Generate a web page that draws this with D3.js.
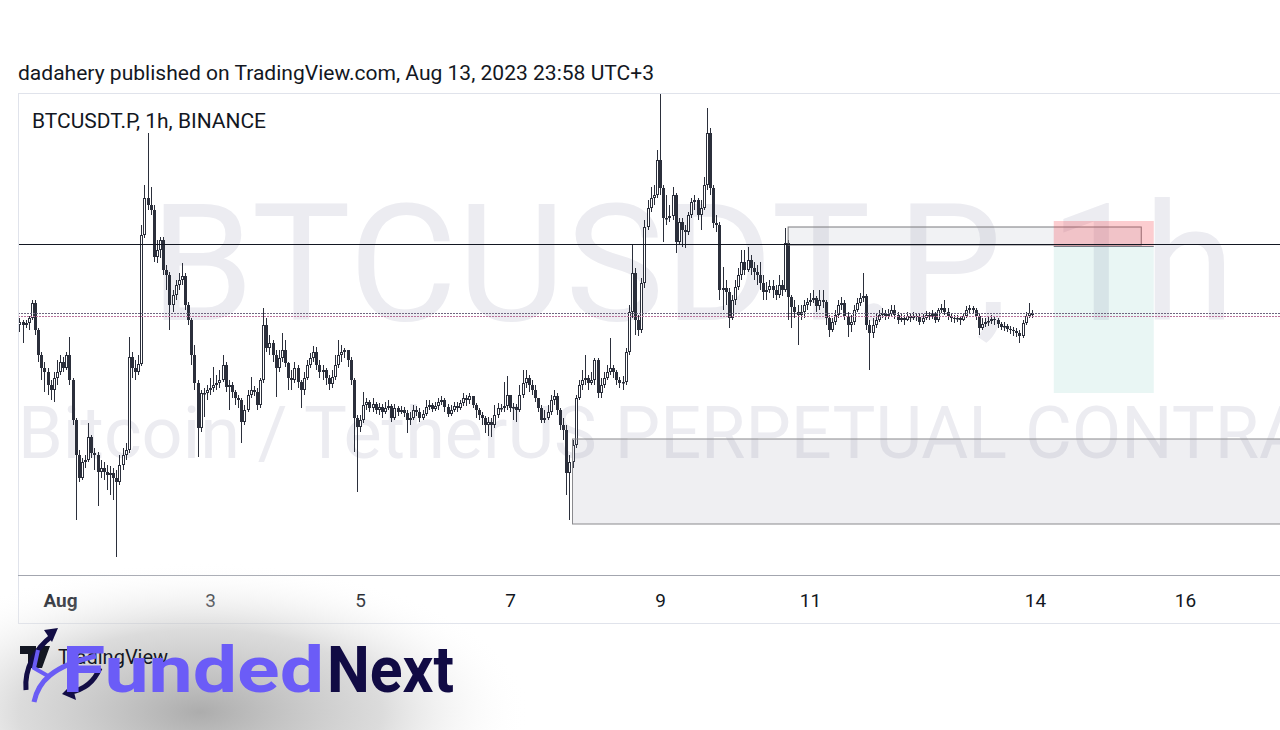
<!DOCTYPE html>
<html><head><meta charset="utf-8">
<script src="https://cdn.jsdelivr.net/npm/d3@7"></script>
<style>
html,body{margin:0;padding:0;background:#fff;}
svg{display:block;font-family:Roboto,"Noto Sans",sans-serif;}
</style></head><body>
<svg id="chart" width="1280" height="730"></svg>
<script>
// ---------- DATA (BTCUSDT.P 1h, Binance; first candle Jul 31 11:00, UTC+3) ----------
const firstOpen = 29320;
const closes = [
29332,29320,29328,29348,29408,29300,29200,29148,29132,29080,29060,29108,29132,
29172,29148,29200,29100,28940,28800,28708,28772,28780,28872,
28808,28800,28732,28748,28732,28720,28728,28708,28692,28760,
28800,28820,29192,29148,29132,29164,29680,29828,29800,29780,
29592,29620,29660,29540,29520,29400,29440,29480,29500,29516,
29400,29340,29200,29088,28908,29048,29048,29060,29068,29080,
29088,29100,29160,29072,29080,29052,29028,29020,28932,28980,
29040,29060,29052,29000,29100,29320,29228,29248,29200,29148,
29188,29220,29168,29108,29100,29148,29092,29060,29108,29160,
29188,29212,29160,29132,29140,29108,29084,29112,29160,29200,
29212,29220,29180,29100,28948,28912,28940,29000,29012,28988,
29004,28980,28992,28972,28988,28996,28948,28988,28972,28980,
28968,28940,28948,28980,28972,28948,28964,28992,29000,28984,
28996,29012,29020,28992,28964,28980,28996,28988,29008,29028,
29020,29036,29000,28980,28960,28948,28920,28932,28920,28960,
28988,28988,28996,29040,28988,28992,28980,29040,29088,29108,
29080,29060,29028,28988,28940,28948,28972,29020,29036,28980,
28920,28900,28728,28772,28840,29028,29080,29100,29108,29088,
29100,29180,29048,29080,29108,29132,29148,29132,29100,29088,
29092,29212,29372,29528,29340,29300,29488,29712,29788,29828,
29840,29980,29868,29748,29748,29756,29840,29652,29732,29700,
29692,29760,29812,29820,29760,29788,29880,30088,29868,29728,
29720,29460,29468,29452,29348,29420,29472,29520,29572,29540,
29580,29548,29532,29520,29488,29452,29460,29476,29460,29440,
29480,29460,29648,29432,29392,29372,29360,29372,29400,29412,
29420,29428,29396,29420,29412,29348,29300,29332,29360,29400,
29408,29356,29320,29332,29380,29408,29428,29436,29320,29288,
29320,29340,29360,29368,29356,29364,29380,29360,29340,29348,
29340,29356,29348,29356,29352,29332,29348,29360,29356,29364,
29340,29380,29388,29372,29356,29348,29344,29348,29340,29356,
29380,29388,29380,29356,29308,29324,29332,29336,29344,29340,
29324,29312,29316,29304,29300,29296,29288,29276,29328,29356,
29368,29360];
const highs = [
29348,29340,29340,29356,29420,29420,29308,29212,29172,29148,29100,29132,29180,
29200,29192,29212,29272,29108,28948,28820,28788,28800,28928,
28880,28828,28812,28780,28772,28760,28756,28748,28740,28800,
28828,28848,29272,29212,29180,29200,29720,29880,30088,29872,
29800,29660,29672,29672,29560,29532,29460,29500,29528,29568,
29528,29412,29348,29240,29100,29060,29068,29080,29108,29152,
29120,29140,29200,29172,29100,29092,29060,29040,29028,29000,
29060,29112,29076,29068,29108,29388,29348,29280,29260,29220,
29220,29288,29260,29172,29140,29172,29160,29100,29132,29180,
29208,29236,29232,29180,29160,29148,29120,29140,29200,29260,
29240,29228,29220,29192,29108,28960,28960,29052,29028,29020,
29028,29012,29008,29004,29012,29020,29004,29004,28996,28996,
28992,28980,28972,29000,28996,28988,28980,29020,29020,29008,
29012,29028,29036,29028,29004,29000,29012,29012,29020,29048,
29040,29048,29036,29008,28988,28972,28956,28952,28948,29000,
29008,29004,29092,29116,29040,29008,29004,29080,29140,29140,
29120,29100,29080,29028,29000,28980,29000,29040,29060,29048,
28988,28948,28920,28800,28860,29040,29100,29140,29200,29120,
29132,29188,29188,29108,29132,29160,29268,29160,29140,29112,
29116,29228,29400,29640,29548,29360,29508,29740,29820,29872,
29880,30020,30248,29880,29840,29800,29872,29848,29748,29748,
29720,29772,29828,29840,29828,29820,29912,30188,30108,29880,
29760,29732,29552,29500,29468,29440,29500,29548,29620,29620,
29632,29600,29572,29560,29572,29520,29492,29500,29500,29480,
29520,29500,29708,29660,29440,29420,29400,29400,29420,29428,
29448,29460,29436,29460,29460,29420,29360,29348,29380,29420,
29432,29420,29372,29360,29400,29428,29448,29528,29444,29340,
29348,29364,29380,29388,29380,29384,29400,29400,29372,29368,
29360,29372,29368,29372,29368,29364,29364,29376,29372,29380,
29372,29388,29404,29420,29388,29368,29360,29360,29356,29368,
29396,29400,29396,29388,29364,29348,29348,29352,29360,29356,
29348,29332,29332,29324,29316,29312,29308,29300,29340,29372,
29408,29380];
const lows = [
29292,29248,29308,29300,29340,29280,29172,29100,29052,29040,29020,29012,29080,
29120,29132,29140,29080,28920,28540,28692,28700,28748,28772,
28788,28740,28596,28708,28700,28660,28640,28620,28392,28680,
28740,28780,28808,29108,29100,29120,29156,29668,29780,29760,
29572,29568,29588,29520,29460,29300,29372,29420,29460,29480,
29380,29320,29160,29060,28792,28892,28952,29020,29040,29052,
29060,29068,29092,29052,28980,29028,29000,28988,28848,28920,
28972,29028,29036,28980,28988,29088,29212,29200,29172,29032,
29132,29172,29152,29060,29060,29088,29068,28988,29040,29100,
29148,29172,29140,29108,29100,29080,29060,29068,29100,29148,
29172,29188,29152,29080,28812,28652,28892,28928,28980,28972,
28972,28964,28960,28948,28964,28980,28932,28940,28956,28964,
28952,28888,28920,28940,28956,28932,28940,28956,28980,28972,
28976,28980,29000,28972,28952,28956,28972,28972,28980,28996,
28996,29004,28988,28948,28940,28920,28888,28876,28872,28908,
28948,28972,28972,28980,28972,28940,28932,28972,29028,29068,
29052,29040,29012,28972,28928,28928,28940,28960,29000,28960,
28900,28860,28640,28540,28748,28828,29020,29060,29080,29060,
29080,29080,29028,29028,29068,29100,29120,29108,29080,29068,
29060,29080,29200,29348,29280,29276,29288,29468,29700,29772,
29800,29828,29840,29652,29720,29732,29740,29608,29640,29632,
29628,29680,29748,29780,29740,29700,29780,29860,29840,29708,
29692,29420,29380,29400,29308,29340,29400,29460,29500,29520,
29532,29520,29500,29480,29460,29420,29420,29448,29428,29420,
29428,29436,29452,29340,29308,29348,29240,29340,29348,29380,
29396,29408,29372,29380,29388,29320,29272,29292,29320,29348,
29380,29340,29272,29292,29320,29372,29396,29412,29300,29140,
29268,29308,29332,29348,29340,29344,29356,29344,29324,29332,
29320,29336,29332,29340,29336,29320,29324,29340,29340,29344,
29328,29332,29368,29360,29340,29332,29328,29332,29320,29336,
29348,29368,29364,29340,29280,29300,29312,29316,29324,29320,
29308,29300,29296,29292,29284,29276,29272,29248,29268,29320,
29348,29348];
const firstCandle = "2023-07-31T11:00:00Z";
const tickDates = ["2023-08-01","2023-08-03","2023-08-05","2023-08-07","2023-08-09","2023-08-11","2023-08-14","2023-08-16"];
const tickLabels = ["Aug","3","5","7","9","11","14","16"];
const levelPrice = 29644;
const lastPriceLines = [29368, 29356];
const rangeBox = ["2023-08-10T17:00:00Z","2023-08-15T10:00:00Z",29712,29640];
const demandBox = ["2023-08-07T20:00:00Z","2023-08-20T00:00:00Z",28864,28524];
const positionTimes = ["2023-08-14T06:00:00Z","2023-08-15T14:00:00Z"];
const positionPrices = {stop:29736, entry:29636, target:29048};
const headerText = "dadahery published on TradingView.com, Aug 13, 2023 23:58 UTC+3";
const symbolText = "BTCUSDT.P, 1h, BINANCE";
const watermark1 = "BTCUSDT.P, 1h";
const watermark2 = "Bitcoin / TetherUS PERPETUAL CONTRACT";

// ---------- CHART ----------
const svg = d3.select("#chart");
const pane = {left:18, right:1280, top:93, bottom:575};
const x = d3.scaleUtc().domain([new Date("2023-08-01T00:00:00Z"), new Date("2023-08-17T00:00:00Z")]).range([60, 1260]);
const y = d3.scaleLinear().domain([28320, 30248]).range([pane.bottom, pane.top]);

const t0 = new Date(firstCandle).getTime();
const candles = closes.map((c,i)=>({
  t:new Date(t0 + i*3600000),
  o: i===0 ? firstOpen : closes[i-1],
  h: highs[i], l: lows[i], c: c
}));

svg.append("rect").attr("width",1280).attr("height",730).attr("fill","#fff");
svg.append("defs").append("clipPath").attr("id","paneClip").append("rect")
  .attr("x",pane.left).attr("y",pane.top).attr("width",pane.right-pane.left).attr("height",pane.bottom-pane.top);

// header
svg.append("text").attr("x",18).attr("y",80).attr("font-size",19.5).attr("fill","#131722")
  .attr("textLength",636).attr("lengthAdjust","spacingAndGlyphs").text(headerText);

const g = svg.append("g").attr("clip-path","url(#paneClip)");
// watermark
g.append("text").attr("x",150).attr("y",320).attr("font-size",163).attr("fill","#ececf1")
  .attr("textLength",1085).attr("lengthAdjust","spacingAndGlyphs").text(watermark1);
g.append("text").attr("x",18).attr("y",458).attr("font-size",72).attr("fill","#ececf1").text(watermark2);

// candles
const up = "#ffffff", dark = "#2b2f3b";
const cg = g.append("g");
candles.forEach(d=>{
  const cx = Math.round(x(d.t));
  const hi = Math.max(d.h, d.o, d.c), lo = Math.min(d.l, d.o, d.c);
  cg.append("rect").attr("x",cx).attr("y",y(hi)).attr("width",1).attr("height",Math.max(1,y(lo)-y(hi))).attr("fill",dark);
  const top = y(Math.max(d.o,d.c)), bot = y(Math.min(d.o,d.c));
  if (d.c >= d.o) {
    cg.append("rect").attr("x",cx-0.5).attr("y",top+0.5).attr("width",2).attr("height",Math.max(0.5,bot-top-1))
      .attr("fill",up).attr("stroke",dark).attr("stroke-width",1);
  } else {
    cg.append("rect").attr("x",cx-1).attr("y",top).attr("width",3).attr("height",Math.max(1,bot-top)).attr("fill",dark);
  }
});

// drawings
function box(b, fill, stroke){
  g.append("rect").attr("x",x(new Date(b[0]))).attr("y",y(b[2]))
   .attr("width",x(new Date(b[1]))-x(new Date(b[0]))).attr("height",y(b[3])-y(b[2]))
   .attr("fill",fill).attr("stroke",stroke).attr("stroke-width",1);
}
box(demandBox,"rgba(120,123,150,0.12)","#8a8a8e");
box(rangeBox,"rgba(120,123,150,0.10)","#7a7a7e");
const px0 = x(new Date(positionTimes[0])), px1 = x(new Date(positionTimes[1]));
g.append("rect").attr("x",px0).attr("y",y(positionPrices.stop)).attr("width",px1-px0)
  .attr("height",y(positionPrices.entry)-y(positionPrices.stop)).attr("fill","rgba(242,54,69,0.25)");
g.append("rect").attr("x",px0).attr("y",y(positionPrices.entry)).attr("width",px1-px0)
  .attr("height",y(positionPrices.target)-y(positionPrices.entry)).attr("fill","rgba(8,153,129,0.09)");
g.append("line").attr("x1",px0).attr("x2",px1).attr("y1",Math.round(y(positionPrices.entry))+0.5).attr("y2",Math.round(y(positionPrices.entry))+0.5)
  .attr("stroke","#787b86").attr("stroke-width",1);
g.append("line").attr("x1",pane.left).attr("x2",pane.right).attr("y1",Math.round(y(levelPrice))+0.5).attr("y2",Math.round(y(levelPrice))+0.5)
  .attr("stroke","#131722").attr("stroke-width",1);
const dotCols = ["#6f6680","#b8709a"];
lastPriceLines.forEach((p,i)=>{
  g.append("line").attr("x1",pane.left).attr("x2",pane.right).attr("y1",Math.round(y(p))+0.5).attr("y2",Math.round(y(p))+0.5)
   .attr("stroke",dotCols[i]).attr("stroke-width",1).attr("stroke-dasharray","2,1");
});

// symbol title
svg.append("text").attr("x",32).attr("y",128).attr("font-size",20).attr("fill","#131722")
  .attr("textLength",234).attr("lengthAdjust","spacingAndGlyphs").text(symbolText);

// frame
svg.append("line").attr("x1",18.5).attr("x2",18.5).attr("y1",93).attr("y2",624).attr("stroke","#e0e3eb");
svg.append("line").attr("x1",18).attr("x2",1280).attr("y1",93.5).attr("y2",93.5).attr("stroke","#e0e3eb");
svg.append("line").attr("x1",18).attr("x2",1280).attr("y1",575.5).attr("y2",575.5).attr("stroke","#a3a6af");
svg.append("line").attr("x1",18).attr("x2",1280).attr("y1",623.5).attr("y2",623.5).attr("stroke","#e0e3eb");

// x axis
const ax = svg.append("g").attr("transform","translate(0,584)")
  .call(d3.axisBottom(x).tickValues(tickDates.map(s=>new Date(s+"T00:00:00Z"))).tickFormat((d,i)=>tickLabels[i]).tickSize(0));
ax.select(".domain").remove();
ax.selectAll("text").attr("font-size",19).attr("font-family","Roboto, sans-serif").attr("fill","#131722").attr("dy","1.05em")
  .attr("font-weight",(d,i)=>i===0?700:400);

// bottom-left logos
const defs = svg.select("defs");
const rg = defs.append("radialGradient").attr("id","shadow").attr("cx","0.5").attr("cy","0.5").attr("r","0.5");
rg.append("stop").attr("offset","0%").attr("stop-color","#a8a8a8").attr("stop-opacity",0.95);
rg.append("stop").attr("offset","55%").attr("stop-color","#c4c4c4").attr("stop-opacity",0.6);
rg.append("stop").attr("offset","100%").attr("stop-color","#ffffff").attr("stop-opacity",0);
svg.append("ellipse").attr("cx",200).attr("cy",712).attr("rx",330).attr("ry",150).attr("fill","url(#shadow)");

// TradingView mark
svg.append("path").attr("d","M20,646 h16 v22 h-8 v-14 h-8 z M40,646 h10 l-8,22 h-8 z").attr("fill","#131722");
svg.append("circle").attr("cx",42).attr("cy",650).attr("r",3).attr("fill","#131722");
svg.append("text").attr("x",58).attr("y",664).attr("font-size",20).attr("fill","#131722").text("TradingView");

// FundedNext mark
svg.append("path").attr("d","M26,690 C24,668 36,648 52,636").attr("fill","none").attr("stroke","#120d45").attr("stroke-width",5);
svg.append("path").attr("d","M44,630 L58,628 L52,642 Z").attr("fill","#120d45");
svg.append("path").attr("d","M34,702 C38,682 52,666 96,656").attr("fill","none").attr("stroke","#6a5cf5").attr("stroke-width",5);
svg.append("path").attr("d","M38,650 L34,668 L48,676").attr("fill","none").attr("stroke","#6a5cf5").attr("stroke-width",4);
svg.append("path").attr("d","M100,668 C94,682 84,690 70,692").attr("fill","none").attr("stroke","#120d45").attr("stroke-width",5);
svg.append("path").attr("d","M72,684 L62,694 L76,700 Z").attr("fill","#120d45");
svg.append("text").attr("x",62).attr("y",692).attr("font-size",64).attr("font-weight",700).attr("fill","#6b5cf7")
  .attr("textLength",262).attr("lengthAdjust","spacingAndGlyphs").text("Funded");
svg.append("text").attr("x",327).attr("y",692).attr("font-size",64).attr("font-weight",700).attr("fill","#110b44")
  .attr("textLength",127).attr("lengthAdjust","spacingAndGlyphs").text("Next");
</script>
</body></html>
